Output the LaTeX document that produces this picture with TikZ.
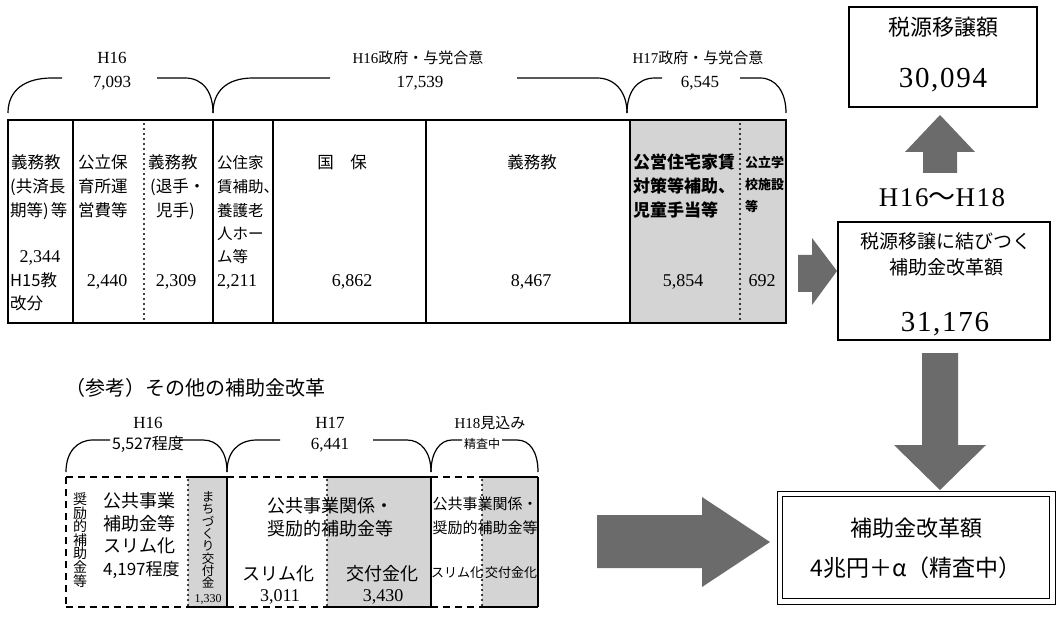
\documentclass[tikz,border=0pt]{standalone}
\usepackage{fontspec}
\setmainfont{Noto Sans CJK JP}
\newfontfamily\numf{Liberation Serif}
\newfontfamily\numw[LetterSpace=6]{Liberation Serif}
\newcommand\fsz[2]{\fontsize{#1}{#2}\selectfont}
\definecolor{shd}{gray}{0.83}
\definecolor{arr}{gray}{0.42}
\begin{document}
\begin{tikzpicture}[x=1pt,y=-1pt,
 jp/.style={inner sep=0pt,anchor=base west,font=\fsz{16.5}{20}},
 jpc/.style={inner sep=0pt,anchor=base,font=\fsz{16.5}{20}},
 nm/.style={inner sep=0pt,anchor=base,font=\numf\fsz{18}{20}},
 brl/.style={line width=1.2pt},
 lab/.style={inner sep=0pt,anchor=base,font=\fsz{15}{18}},
 outerl/.style={line width=2pt},
 divl/.style={line width=1.5pt},
 dotl/.style={line width=2.4pt,dash pattern=on 0pt off 5pt,line cap=round},
 dashl/.style={line width=2.2pt,dash pattern=on 7pt off 5pt},
 solidl/.style={line width=2pt},
 blk/.style={fill=arr}
]
\useasboundingbox (0,0) rectangle (1059,617);
\fill[white] (0,0) rectangle (1059,617);

% ---------- top braces ----------
\draw[brl] (8,113) .. controls (8,90) and (25,78) .. (52,78) -- (62,78);
\draw[brl] (157,78) -- (185,78) .. controls (203,78) and (213,92) .. (213,113);
\draw[brl] (213,113) .. controls (213,92) and (226,78) .. (253,78) -- (330,78);
\draw[brl] (517,78) -- (597,78) .. controls (615,78) and (627,92) .. (627,113);
\draw[brl] (627,113) .. controls (627,92) and (637,78) .. (655,78) -- (662,78);
\draw[brl] (740,78) -- (760,78) .. controls (776,78) and (786,92) .. (786,113);
\node[lab,font=\numf\fsz{17}{18}] (l1a) at (112,64) {H16};
\node[lab,font=\numf\fsz{17}{18}] (l1b) at (112,88) {7,093};
\node[lab] (l2a) at (418,64) {{\numf H16}政府・与党合意};
\node[lab,font=\numf\fsz{17}{18}] (l2b) at (420,88) {17,539};
\node[lab] (l3a) at (698,64) {{\numf H17}政府・与党合意};
\node[lab,font=\numf\fsz{17}{18}] (l3b) at (700,88) {6,545};

% ---------- top table ----------
\fill[shd] (630,120) rectangle (786,323);
\draw[outerl] (8,120) rectangle (786,323);
\foreach \xx in {73,213,273,426,630} \draw[divl] (\xx,120) -- (\xx,323);
\draw[dotl] (144,124) -- (144,321);
\draw[dotl] (740,124) -- (740,321);

\node[jp] (c1a) at (11,168.5) {義務教};
\node[jp] (c1b) at (10,192.5) {(共済長};
\node[jp] (c1c) at (10,216.5) {期等)\kern2pt 等};
\node[nm] (c1d) at (40,262.5) {2,344};
\node[jp] (c1e) at (10,286.5) {H15教};
\node[jp] (c1f) at (10,309.5) {改分};

\node[jp] (c2a) at (78,168.5) {公立保};
\node[jp] (c2b) at (78,192.5) {育所運};
\node[jp] (c2c) at (78,216.5) {営費等};
\node[nm] (c2d) at (107,286.5) {2,440};

\node[jp] (c3a) at (148,168.5) {義務教};
\node[jp] (c3b) at (150,192.5) {(退手・};
\node[jp] (c3c) at (156,216.5) {児手)};
\node[nm] (c3d) at (176,286.5) {2,309};

\node[jp,font=\fsz{15.5}{20}] (c4a) at (217,168.5) {公住家};
\node[jp,font=\fsz{15.5}{20}] (c4b) at (217,192.5) {賃補助、};
\node[jp,font=\fsz{15.5}{20}] (c4c) at (217,216.5) {養護老};
\node[jp,font=\fsz{15.5}{20}] (c4d) at (217,239.5) {人ホー};
\node[jp,font=\fsz{15.5}{20}] (c4e) at (217,262.5) {ム等};
\node[nm,anchor=base west] (c4f) at (217,286.5) {2,211};

\node[jpc] (c5a) at (342,168.5) {国　保};
\node[nm] (c5b) at (352,286.5) {6,862};

\node[jpc] (c6a) at (532,168.5) {義務教};
\node[nm] (c6b) at (531,286.5) {8,467};

\node[jp,font=\bfseries\fsz{17}{20}] (c7a) at (633,168.5) {公営住宅家賃};
\node[jp,font=\bfseries\fsz{17}{20}] (c7b) at (633,192.5) {対策等補助、};
\node[jp,font=\bfseries\fsz{17}{20}] (c7c) at (633,216.5) {児童手当等};
\node[nm] (c7d) at (683,286.5) {5,854};

\node[jp,font=\bfseries\fsz{13}{15}] (c8a) at (745,168) {公立学};
\node[jp,font=\bfseries\fsz{13}{15}] (c8b) at (745,190) {校施設};
\node[jp,font=\bfseries\fsz{13}{15}] (c8c) at (745,212) {等};
\node[nm] (c8d) at (762,286.5) {692};

% ---------- right column ----------
\node[draw,line width=1.8pt,minimum width=188pt,minimum height=100pt,inner sep=0pt] (taxbox) at (943,57) {};
\node[jpc,font=\fsz{22}{24}] (tax1) at (943,35.5) {税源移譲額};
\node[nm,font=\numw\fsz{29}{30}] (tax2) at (943,87.5) {30,094};

\fill[blk] (923,173) -- (923,152) -- (905,152) -- (940,115) -- (975,152) -- (957,152) -- (957,173) -- cycle;
\node[jpc,font=\fsz{27}{28}] (period) at (942,207) {{\numw H16}〜{\numw H18}};

\node[draw,line width=1.8pt,minimum width=212pt,minimum height=118pt,inner sep=0pt] (subbox) at (944,281) {};
\node[jpc,font=\fsz{19}{22}] (sub1) at (946,249) {税源移譲に結びつく};
\node[jpc,font=\fsz{19}{22}] (sub2) at (946,275) {補助金改革額};
\node[nm,font=\numw\fsz{29}{30}] (sub3) at (945,331.5) {31,176};

\fill[blk] (798,255) -- (812,255) -- (812,238) -- (837,271) -- (812,305) -- (812,292) -- (798,292) -- cycle;

\fill[blk] (922,353) -- (958,353) -- (958,445) -- (986,445) -- (940,490) -- (894,445) -- (922,445) -- cycle;

\node[draw,line width=1pt,minimum width=278pt,minimum height=113pt,inner sep=0pt] (totbox) at (916,547.5) {};
\node[draw,line width=1.8pt,minimum width=267pt,minimum height=102pt,inner sep=0pt] (totin) at (916,547.5) {};
\node[jpc,font=\fsz{22}{24}] (tot1) at (916,536) {補助金改革額};
\node[jpc,font=\fsz{23}{24}] (tot2) at (916,576) {4兆円＋α（精査中）};

\fill[blk] (597,515) -- (702,515) -- (702,497) -- (770,542) -- (702,587) -- (702,568) -- (597,568) -- cycle;

% ---------- bottom-left ----------
\node[jp,font=\fsz{20}{24}] (refttl) at (65,395) {（参考）その他の補助金改革};

\draw[brl] (66,472) .. controls (66,452) and (77,440) .. (93,440) -- (110,440);
\draw[brl] (180,440) -- (203,440) .. controls (218,440) and (227,452) .. (227,472);
\draw[brl] (227,472) .. controls (227,452) and (238,440) .. (257,440) -- (280,440);
\draw[brl] (373,440) -- (407,440) .. controls (421,440) and (431,452) .. (431,472);
\draw[brl] (431,472) .. controls (431,452) and (440,440) .. (452,440) -- (462,440);
\draw[brl] (502,440) -- (517,440) .. controls (530,440) and (538,452) .. (538,472);

\node[lab,font=\numf\fsz{17}{18}] (b1a) at (148,428) {H16};
\node[lab,font=\fsz{16}{18}] (b1b) at (148,449) {5,527程度};
\node[lab,font=\numf\fsz{17}{18}] (b2a) at (330,428) {H17};
\node[lab,font=\numf\fsz{17}{18}] (b2b) at (330,449) {6,441};
\node[lab,font=\fsz{15}{18}] (b3a) at (490,428) {{\numf H18}見込み};
\node[lab,font=\fsz{12}{14}] (b3b) at (482,448) {精査中};

\fill[shd] (188,477) rectangle (227,607);
\fill[shd] (327,477) rectangle (431,607);
\fill[shd] (482,477) rectangle (538,607);
\draw[dashl] (66,477) -- (188,477);
\draw[dashl] (66,607) -- (188,607);
\draw[dashl] (66,477) -- (66,607);
\draw[dashl] (227,477) -- (327,477);
\draw[dashl] (227,607) -- (327,607);
\draw[dashl] (431,477) -- (482,477);
\draw[dashl] (431,607) -- (482,607);
\draw[solidl] (188,477) -- (227,477);
\draw[solidl] (188,607) -- (227,607);
\draw[solidl] (327,477) -- (431,477);
\draw[solidl] (327,607) -- (431,607);
\draw[solidl] (482,477) -- (538,477);
\draw[solidl] (482,607) -- (538,607);
\draw[solidl] (227,477) -- (227,607);
\draw[solidl] (431,477) -- (431,607);
\draw[solidl] (538,477) -- (538,607);
\draw[dotl] (188,480) -- (188,605);
\draw[dotl] (327,480) -- (327,605);
\draw[dotl] (482,480) -- (482,605);

\node[inner sep=0pt,align=center,font=\fsz{14}{13.6}] (v1) at (80,540) {奨\\励\\的\\補\\助\\金\\等};
\node[jp,font=\fsz{18}{20}] (h16a) at (103,507) {公共事業};
\node[jp,font=\fsz{18}{20}] (h16b) at (103,530) {補助金等};
\node[jp,font=\fsz{18}{20}] (h16c) at (103,552) {スリム化};
\node[jp,font=\fsz{17}{20}] (h16d) at (103,575) {4,197程度};
\node[inner sep=0pt,align=center,font=\fsz{12.5}{12.3}] (v2) at (208,540) {ま\\ち\\づ\\く\\り\\交\\付\\金};
\node[nm,font=\numf\fsz{12}{12}] (v3) at (208,602) {1,330};

\node[jpc,font=\fsz{18}{20}] (h17a) at (330,512) {公共事業関係・};
\node[jpc,font=\fsz{18}{20}] (h17b) at (330,535) {奨励的補助金等};
\node[jpc,font=\fsz{18}{20}] (h17c) at (278,580) {スリム化};
\node[nm] (h17d) at (280,601) {3,011};
\node[jpc,font=\fsz{18}{20}] (h17e) at (382,580) {交付金化};
\node[nm] (h17f) at (383,601) {3,430};

\node[jpc,font=\fsz{15}{18}] (h18a) at (485,509) {公共事業関係・};
\node[jpc,font=\fsz{15}{18}] (h18b) at (485,533) {奨励的補助金等};
\node[jpc,font=\fsz{13}{16}] (h18c) at (457,577) {スリム化};
\node[jpc,font=\fsz{13}{16}] (h18d) at (511,577) {交付金化};
\end{tikzpicture}
\end{document}
